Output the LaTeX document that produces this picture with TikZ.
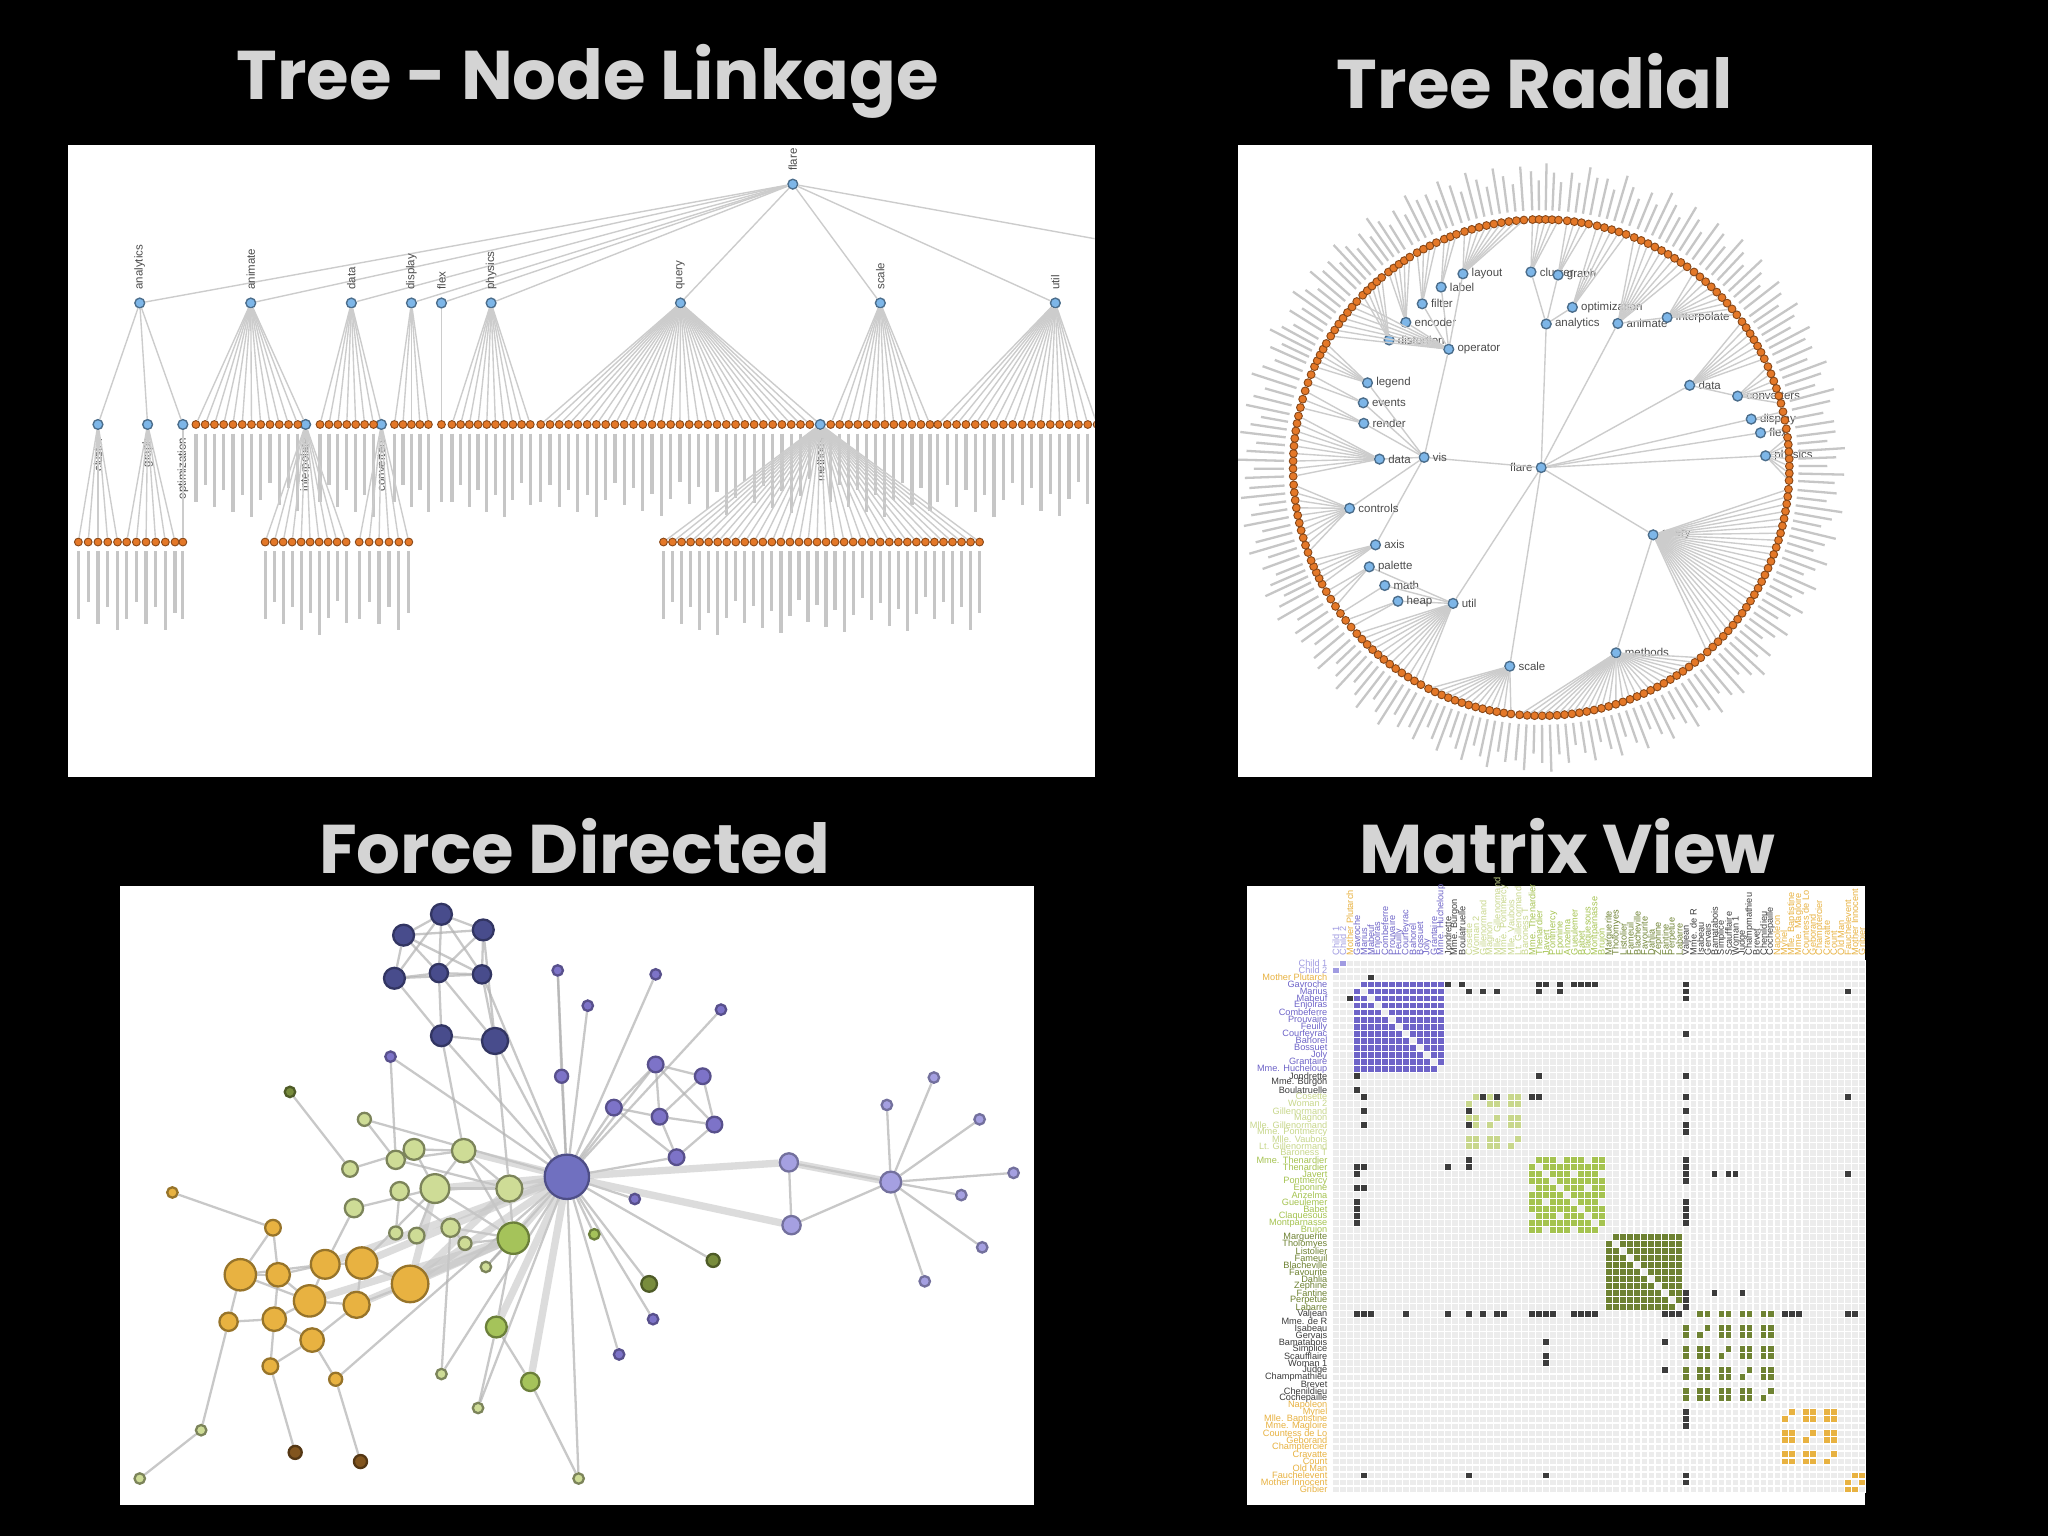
\documentclass[tikz,border=0pt]{standalone}
\usepackage{fontspec}
\setmainfont{Liberation Sans}
\newfontfamily\titlefont{Poppins}
\usetikzlibrary{backgrounds}

\definecolor{ttl}{RGB}{212,212,212}
\definecolor{nblue}{RGB}{125,182,232}
\definecolor{norange}{RGB}{228,120,40}
\definecolor{pd}{RGB}{72,76,140}
\definecolor{hub}{RGB}{112,112,192}
\definecolor{pm}{RGB}{125,115,200}
\definecolor{lp}{RGB}{165,160,225}
\definecolor{lg}{RGB}{206,220,150}
\definecolor{mg}{RGB}{165,195,90}
\definecolor{dg}{RGB}{120,140,60}
\definecolor{og}{RGB}{232,178,65}
\definecolor{br}{RGB}{130,85,30}
\definecolor{mlp}{RGB}{160,155,225}
\definecolor{mor}{RGB}{232,178,65}
\definecolor{mpu}{RGB}{110,100,200}
\definecolor{mdk}{RGB}{60,60,60}
\definecolor{mlg}{RGB}{200,215,140}
\definecolor{mgr}{RGB}{165,195,80}
\definecolor{mol}{RGB}{110,130,50}
\definecolor{mbg}{RGB}{236,236,236}

% tree fan: parent, x from, x to, y
\newcommand\tfan[4]{%
  \pgfmathtruncatemacro\nn{max(1,round((#3-#2)/7)+1)}
  \foreach \k in {1,...,\nn}{
    \pgfmathsetmacro\xx{#2+(#3-#2)*(\k-1)/max(\nn-1,1)}
    \pgfmathsetmacro\ll{35+mod(\k*17,30)}
    \node[leaf] (#1-\k) at (\xx,#4) {};
    \draw[link] (#1) -- (#1-\k);
    \draw[lbl] (\xx,#4+7) -- ++(0,\ll);
  }}
% radial fan: parent, angle from, angle to
\newcommand\rfan[3]{%
  \pgfmathtruncatemacro\nn{max(1,round(abs(#3-#2)/1.7)+1)}
  \foreach \k in {1,...,\nn}{
    \pgfmathsetmacro\ang{#2+(#3-#2)*(\k-1)/max(\nn-1,1)}
    \pgfmathsetmacro\ll{214+mod(\k*13,20)}
    \node[leaf] (#1-\k) at (\ang:190) {};
    \draw[link] (#1) -- (#1-\k);
    \draw[rlbl] (\ang:197) -- (\ang:\ll);
  }}
% matrix
\def\cs{5.37}
\newcommand\cell[3]{\fill[#3] (1020.4+#2*\cs,735.4+#1*\cs) rectangle ++(4.5,4.5);}
\newcommand\mblock[4]{%
  \foreach \i in {#1,...,#2}{\foreach \j in {#1,...,#2}{%
    \ifnum\i=\j\else
      \pgfmathtruncatemacro\t{mod(\i*3+\j*3+\i*\j,#4)}%
      \ifnum\t>0 \cell{\i}{\j}{#3}\fi
    \fi}}}
\newcommand\setgrp[1]{%
  \ifnum#1<2 \def\gc{mlp}\else\ifnum#1<3 \def\gc{mor}\else
  \ifnum#1<16 \def\gc{mpu}\else\ifnum#1<19 \def\gc{mdk}\else
  \ifnum#1<28 \def\gc{mlg}\else\ifnum#1<39 \def\gc{mgr}\else
  \ifnum#1<50 \def\gc{mol}\else\ifnum#1<63 \def\gc{mdk}\else
  \def\gc{mor}\fi\fi\fi\fi\fi\fi\fi\fi}

\begin{document}
\begin{tikzpicture}[x=0.01cm,y=-0.01cm,
    % styles
    title/.style={text=ttl,font=\titlefont\bfseries\fontsize{15}{18}\selectfont},
    panel/.style={fill=white},
    blue node/.style={circle,fill=nblue,draw=nblue!60!black,line width=0.3pt,minimum size=0.075cm,inner sep=0pt},
    leaf/.style={circle,fill=norange,draw=norange!60!black,line width=0.2pt,minimum size=0.06cm,inner sep=0pt},
    link/.style={gray!40,line width=0.3pt},
    lbl/.style={gray!45,line width=0.7pt},
    rlbl/.style={gray!45,line width=0.5pt},
    ntext/.style={font=\fontsize{2.5}{2.5}\selectfont,text=gray!60!black,inner sep=0.5pt},
    fd/.style={circle,inner sep=0pt,line width=0.5pt},
    fdlink/.style={gray!60,line width=0.5pt,opacity=.7},
    fdthick/.style={gray!45,line width=1.6pt,opacity=.6},
    mrow/.style={font=\fontsize{2}{2}\selectfont,inner sep=0.3pt,anchor=east},
    mcol/.style={font=\fontsize{2}{2}\selectfont,inner sep=0.3pt,anchor=west,rotate=90}]

  % background and panels
  \begin{scope}[on background layer]
    \fill[black] (0,0) rectangle (1568,1176);
    \fill[panel] (52,111) rectangle (838,595);
    \fill[panel] (948,111) rectangle (1433,595);
    \fill[panel] (92,678) rectangle (792,1152);
    \fill[panel] (955,678) rectangle (1428,1152);
  \end{scope}

  % titles
  \node[title] at (450,62) {Tree - Node Linkage};
  \node[title] at (1175,62) {Tree Radial};
  \node[title] at (440,648) {Force Directed};
  \node[title] at (1200,648) {Matrix View};

  %%% Tree - Node Linkage
  \begin{scope}
    \clip (52,111) rectangle (838,595);
    \node[blue node] (root) at (607,141) {};
    \node[ntext,rotate=90,anchor=west] at ([yshift=1pt]root.north) {flare};
    \coordinate (off) at (845,184);
    \draw[link] (root) -- (off);
    \foreach \n/\x in {analytics/107,animate/192,data/269,display/315,flex/338,physics/376,query/521,scale/674,util/808}{
      \node[blue node] (\n) at (\x,232) {};
      \draw[link] (root) -- (\n);
      \node[ntext,rotate=90,anchor=west] at ([yshift=1pt]\n.north) {\n};
    }
    \foreach \n/\x/\p in {cluster/75/analytics,graph/113/analytics,optimization/140/analytics,
        interpolate/234/animate,converters/292/data,methods/628/query}{
      \node[blue node] (\n) at (\x,325) {};
      \draw[link] (\p) -- (\n);
      \node[ntext,rotate=90,anchor=east] at ([yshift=-1pt]\n.south) {\n};
    }
    % leaves
    \tfan{animate}{150}{228}{325}
    \tfan{data}{245}{286}{325}
    \tfan{display}{302}{328}{325}
    \tfan{flex}{338}{338}{325}
    \tfan{physics}{346}{406}{325}
    \tfan{query}{414}{620}{325}
    \tfan{scale}{636}{712}{325}
    \tfan{util}{718}{840}{325}
    \tfan{cluster}{60}{90}{415}
    \tfan{graph}{97}{134}{415}
    \tfan{optimization}{140}{140}{415}
    \tfan{interpolate}{203}{265}{415}
    \tfan{converters}{275}{313}{415}
    \tfan{methods}{508}{750}{415}
  \end{scope}

  %%% Tree Radial
  \begin{scope}
  \clip (948,111) rectangle (1433,595);
  \begin{scope}[shift={(1180,358)},yscale=-1]
    \node[blue node] (flare) at (0,0) {};
    \node[ntext,anchor=east] at (flare.west) {flare};
    \foreach \n/\t/\a/\r/\p in {analytics/analytics/88/110/flare,cluster/cluster/93/150/analytics,
        graph/graph/85/148/analytics,optimization/optimization/79/125/analytics,
        animate/animate/62/125/flare,interpolate/interpolate/50/150/animate,
        data/data/29/130/flare,converters/converters/20/160/data,
        display/display/13/165/flare,flex/flex/9/170/flare,physics/physics/3/172/flare,
        query/query/-31/100/flare,methods/methods/-68/153/query,
        scale/scale/-99/154/flare,util/util/-123/124/flare,
        heap/heap/-137/150/util,math/math/-143/150/util,palette/palette/-150/152/util,
        vis/vis/175/90/flare,axis/axis/-155/140/vis,controls/controls/-168/150/vis,
        vdata/data/177/124/vis,render/render/166/140/vis,events/events/160/145/vis,
        legend/legend/154/148/vis,operator/operator/128/115/vis,
        distortion/distortion/140/152/operator,encoder/encoder/133/152/operator,
        filter/filter/126/155/operator,label/label/119/158/operator,layout/layout/112/160/operator}{
      \node[blue node] (\n) at (\a:\r) {};
      \draw[link] (\p) -- (\n);
      \node[ntext,anchor=west] at (\n.east) {\t};
    }
    % leaves
    \rfan{physics}{7}{-3}
    \rfan{flex}{9}{9}
    \rfan{display}{13}{11}
    \rfan{converters}{24}{15}
    \rfan{data}{36}{26}
    \rfan{interpolate}{52}{38}
    \rfan{animate}{68}{54}
    \rfan{optimization}{77}{70}
    \rfan{graph}{84}{79}
    \rfan{cluster}{92}{86}
    \rfan{layout}{108}{94}
    \rfan{label}{113}{110}
    \rfan{filter}{120}{115}
    \rfan{encoder}{128}{122}
    \rfan{distortion}{136}{130}
    \rfan{operator}{148}{138}
    \rfan{legend}{156}{150}
    \rfan{events}{160}{158}
    \rfan{render}{166}{162}
    \rfan{vdata}{182}{168}
    \rfan{controls}{200}{184}
    \rfan{axis}{208}{202}
    \rfan{palette}{214}{210}
    \rfan{math}{216}{216}
    \rfan{heap}{220}{218}
    \rfan{util}{241}{222}
    \rfan{scale}{263}{243}
    \rfan{methods}{310}{265}
    \rfan{query}{355}{312}
  \end{scope}
  \end{scope}

  %%% Force Directed
  \foreach \n/\x/\y/\r in {d1/309/716/8,d2/338/700/8,d3/370/712/8,d4/302/749/8,d5/336/745/7,d6/369/746/7,d7/338/793/8,d8/379/797/10}
    \node[fd,fill=pd,draw=pd!70!black,minimum size=\r*0.02cm] (\n) at (\x,\y) {};
  \node[fd,fill=hub,draw=hub!70!black,minimum size=0.34cm] (V) at (434,901) {};
  \foreach \n/\x/\y/\r in {m1/427/743/4,m2/450/770/4,m3/502/746/4,m4/552/773/4,m5/299/809/4,m6/430/824/5,m7/502/815/6,m8/538/824/6,
      m9/470/848/6,m10/505/855/6,m11/547/861/6,m12/518/886/6,m13/486/918/4,m14/500/1010/4,m15/474/1037/4}
    \node[fd,fill=pm,draw=pm!70!black,minimum size=\r*0.02cm] (\n) at (\x,\y) {};
  \foreach \n/\x/\y/\r in {l1/604/890/7,l2/606/938/7,l3/682/905/8,l4/679/846/4,l5/715/825/4,l6/750/857/4,l7/776/898/4,
      l8/736/915/4,l9/752/955/4,l10/708/981/4}
    \node[fd,fill=lp,draw=lp!70!black,minimum size=\r*0.02cm] (\n) at (\x,\y) {};
  \foreach \n/\x/\y/\r in {g1/279/857/5,g2/268/895/6,g3/271/925/7,g4/303/888/7,g5/317/880/8,g6/355/881/9,g7/333/910/11,
      g8/306/912/7,g9/390/910/10,g10/345/940/7,g11/319/946/6,g12/303/944/5,g13/356/952/5,g14/372/970/4,
      g15/338/1052/4,g16/366/1078/4,g17/443/1132/4,g18/154/1095/4,g19/107/1132/4}
    \node[fd,fill=lg,draw=lg!60!black,minimum size=\r*0.02cm] (\n) at (\x,\y) {};
  \foreach \n/\x/\y/\r in {h1/393/948/12,h2/380/1016/8,h3/406/1058/7,h4/455/945/4}
    \node[fd,fill=mg,draw=mg!65!black,minimum size=\r*0.02cm] (\n) at (\x,\y) {};
  \foreach \n/\x/\y/\r in {k1/497/983/6,k2/546/965/5,k3/222/836/4}
    \node[fd,fill=dg,draw=dg!65!black,minimum size=\r*0.02cm] (\n) at (\x,\y) {};
  \foreach \n/\x/\y/\r in {o1/209/940/6,o2/184/976/12,o3/213/976/9,o4/249/968/11,o5/277/967/12,o6/314/983/14,o7/237/996/12,
      o8/210/1010/9,o9/273/999/10,o10/239/1026/9,o11/175/1012/7,o12/207/1046/6,o13/257/1056/5,o14/132/913/4}
    \node[fd,fill=og,draw=og!65!black,minimum size=\r*0.02cm] (\n) at (\x,\y) {};
  \foreach \n/\x/\y/\r in {b1/226/1112/5,b2/276/1119/5}
    \node[fd,fill=br,draw=br!65!black,minimum size=\r*0.02cm] (\n) at (\x,\y) {};

  \begin{scope}[on background layer]
    \foreach \a/\b in {d1/d2,d1/d3,d1/d4,d1/d5,d1/d6,d2/d3,d2/d4,d2/d5,d2/d6,d3/d5,d3/d6,d4/d5,d4/d6,d5/d6,d4/d7,
        d5/d7,d6/d8,d5/d8,d7/d8,d3/d8,d8/V,d7/V,d6/V,d8/g9,d7/g6,
        V/m1,V/m2,V/m3,V/m4,V/m6,V/m7,V/m9,V/m12,V/m13,V/m14,V/m15,V/h4,V/k1,V/k2,V/m5,V/g1,V/g15,V/g16,V/g17,V/g14,V/o13,
        m7/m8,m7/m9,m7/m10,m8/m10,m8/m11,m9/m10,m10/m11,m10/m12,m11/m12,m9/m12,m7/m11,m1/m6,
        l1/l2,l1/l3,l2/l3,l3/l4,l3/l5,l3/l6,l3/l7,l3/l8,l3/l9,l3/l10,
        g1/g4,g2/g5,g3/g7,g4/g6,g5/g7,g6/g7,g6/g9,g7/g9,g8/g10,g10/g13,g11/g7,g12/g8,g9/h1,g7/h1,g10/h1,g6/h1,g13/h1,
        h1/h2,h2/h3,g14/h1,g15/g10,g16/h2,g17/h3,g4/g9,g5/g6,m5/g4,k3/g2,
        o1/o3,o1/o2,o2/o3,o2/o4,o3/o4,o3/o7,o4/o5,o4/o7,o5/o6,o5/o9,o6/o9,o7/o9,o7/o8,o8/o10,o9/o10,o2/o11,o8/o11,
        o8/o12,o10/o12,o10/o13,o2/o7,o3/o8,o1/o14,o12/b1,o13/b2,o11/g18,g18/g19,o4/g3,o5/g7}
      \draw[fdlink] (\a) -- (\b);
    \foreach \a/\b in {V/l1,V/l2,V/g6,V/g9,V/g7,V/h1,V/h2,V/h3,V/o6,V/o5,V/o4,o6/g7,o6/h1,o6/g9,o7/h1,o9/h1,l1/l3}
      \draw[fdthick] (\a) -- (\b);
  \end{scope}

  %%% Matrix View
  \fill[mbg] (1020,735) rectangle (1428.1,1143.1);
  \foreach \k in {0,...,76}{
    \draw[white,line width=0.3pt] (1020+\k*\cs,735) -- ++(0,408.1);
    \draw[white,line width=0.3pt] (1020,735+\k*\cs) -- ++(408.1,0);
  }
  \foreach \nm [count=\i from 0] in {Child 1,Child 2,Mother Plutarch,Gavroche,Marius,Mabeuf,Enjolras,Combeferre,
      Prouvaire,Feuilly,Courfeyrac,Bahorel,Bossuet,Joly,Grantaire,Mme. Hucheloup,Jondrette,Mme. Burgon,
      Boulatruelle,Cosette,Woman 2,Gillenormand,Magnon,Mlle. Gillenormand,Mme. Pontmercy,Mlle. Vaubois,
      Lt. Gillenormand,Baroness T,Mme. Thenardier,Thenardier,Javert,Pontmercy,Eponine,Anzelma,Gueulemer,
      Babet,Claquesous,Montparnasse,Brujon,Marguerite,Tholomyes,Listolier,Fameuil,Blacheville,Favourite,
      Dahlia,Zephine,Fantine,Perpetue,Labarre,Valjean,Mme. de R,Isabeau,Gervais,Bamatabois,Simplice,
      Scaufflaire,Woman 1,Judge,Champmathieu,Brevet,Chenildieu,Cochepaille,Napoleon,Myriel,
      Mlle. Baptistine,Mme. Magloire,Countess de Lo,Geborand,Champtercier,Cravatte,Count,Old Man,
      Fauchelevent,Mother Innocent,Gribier}{
    \setgrp{\i}
    \node[mrow,text=\gc] at (1018,735+\i*\cs+\cs/2) {\nm};
    \node[mcol,text=\gc] at (1020+\i*\cs+\cs/2,733) {\nm};
  }
  % blocks
  \cell{0}{1}{mlp}\cell{1}{0}{mlp}
  \mblock{3}{15}{mpu}{40}
  \mblock{19}{27}{mlg}{3}
  \mblock{28}{38}{mgr}{4}
  \mblock{39}{49}{mol}{40}
  \mblock{50}{62}{mol}{3}
  \mblock{63}{72}{mor}{3}
  \mblock{73}{75}{mor}{40}
  % links between groups
  \foreach \a/\b in {50/3,50/4,50/5,50/10,50/16,50/19,50/21,50/23,50/24,50/28,50/29,50/30,50/31,50/34,50/35,
      50/36,50/37,50/47,50/48,50/49,50/64,50/65,50/66,50/73,50/74,2/5,
      3/16,3/18,3/29,3/30,3/32,3/34,3/35,3/36,3/37,4/19,4/21,4/23,4/29,4/32,4/73,
      30/54,30/56,30/57,29/16,29/19,19/21,19/23,19/28,19/73,47/54,47/58,73/30}{
    \cell{\a}{\b}{mdk}\cell{\b}{\a}{mdk}
  }
\end{tikzpicture}
\end{document}
